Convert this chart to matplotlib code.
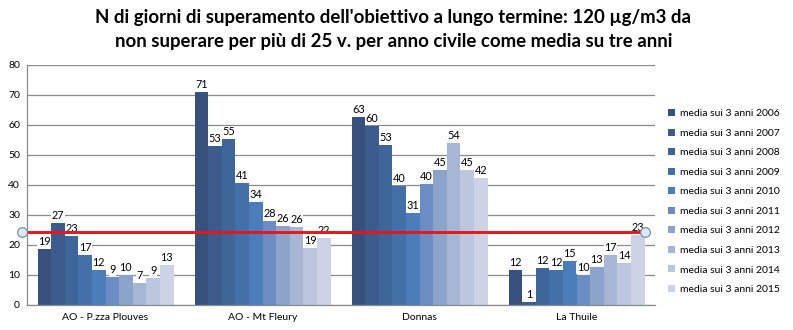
import matplotlib
matplotlib.use("Agg")
import matplotlib.pyplot as plt
import numpy as np

stations = ["AO - P.zza Plouves", "AO - Mt Fleury", "Donnas", "La Thuile"]
series_labels = ["media sui 3 anni 2006", "media sui 3 anni 2007", "media sui 3 anni 2008",
                 "media sui 3 anni 2009", "media sui 3 anni 2010", "media sui 3 anni 2011",
                 "media sui 3 anni 2012", "media sui 3 anni 2013", "media sui 3 anni 2014",
                 "media sui 3 anni 2015"]
# values per series (rows) for each station (columns)
plouves = [18.7, 27.3, 23.0, 16.7, 11.7, 9.3, 10.0, 7.3, 9.0, 13.3]
fleury = [71.0, 53.0, 55.3, 40.7, 34.3, 28.0, 26.3, 26.0, 19.0, 22.3]
donnas = [62.7, 59.7, 53.3, 39.7, 30.7, 40.3, 45.0, 54.0, 45.0, 42.3]
thuile = [11.7, 1.0, 12.3, 11.7, 14.7, 10.0, 12.7, 16.7, 14.0, 23.3]
threshold = 24.5
yticks = [0, 10, 20, 30, 40, 50, 60, 70, 80]

colors = ["#36527c", "#3b5c8c", "#3f6699", "#4370a8", "#4a7dba",
          "#6b8dc3", "#8ca3ca", "#a7b6d5", "#bcc7df", "#cbd3e5"]

data = np.array([plouves, fleury, donnas, thuile]).T  # shape (10, 4)

plt.rcParams['font.family'] = ['Lato', 'DejaVu Sans']
fig = plt.figure(figsize=(7.93, 3.30), dpi=100)
ax = fig.add_axes([27/793, 25/330, (655-27)/793, (305-65)/330])

n = len(series_labels)
group_w = 136/157
bw = group_w / n
x = np.arange(len(stations))
handles = []
for i in range(n):
    pos = x - group_w/2 + bw*(i + 0.5)
    b = ax.bar(pos, data[i], width=bw, color=colors[i], label=series_labels[i], zorder=2)
    handles.append(b)
    for px, v in zip(pos, data[i]):
        ax.text(px, v + 0.6, f"{v:.0f}", ha='center', va='bottom', fontsize=7.8,
                color='black', zorder=4,
                bbox=dict(boxstyle='square,pad=0.05', fc='white', ec='none'))

ax.set_xlim(-0.5, 3.5)
ax.set_ylim(0, 80)
ax.set_yticks(yticks)
ax.set_xticks(x)
ax.set_xticklabels(stations)
ax.tick_params(axis='both', length=0, labelsize=7.5, colors='black')
ax.tick_params(axis='y', pad=5)
ax.tick_params(axis='x', pad=6)
ax.yaxis.grid(True, color='#8a8a8a', linewidth=0.9, zorder=0)
ax.set_axisbelow(True)
for s in ['top', 'right']:
    ax.spines[s].set_visible(False)
for s in ['left', 'bottom']:
    ax.spines[s].set_color('#8a8a8a')
    ax.spines[s].set_linewidth(0.9)

# threshold line
x0, x1 = -0.53, 3.436
ax.plot([x0, x1], [threshold, threshold], color='#e8151b', linewidth=2.1,
        zorder=5, clip_on=False, solid_capstyle='butt')
ax.plot([x0, x1], [threshold, threshold], linestyle='none', marker='o', markersize=7,
        markerfacecolor='#dbe9f4', markeredgecolor='#7a8fa8', markeredgewidth=0.9,
        zorder=6, clip_on=False)

fig.legend(handles=handles, loc='upper left', bbox_to_anchor=(668/793, 1 - 109/330),
           frameon=False, fontsize=7.5, handlelength=0.65, handleheight=0.65,
           handletextpad=0.5, labelspacing=1.0, borderaxespad=0, borderpad=0)

fig.text(0.496, 1 - 17/330,
         "N di giorni di superamento dell'obiettivo a lungo termine: 120 µg/m3 da",
         ha='center', va='center', fontsize=13.4, fontweight='bold')
fig.text(0.496, 1 - 42/330,
         "non superare per più di 25 v. per anno civile come media su tre anni",
         ha='center', va='center', fontsize=13.4, fontweight='bold')

fig.savefig("out.png", dpi=100)
